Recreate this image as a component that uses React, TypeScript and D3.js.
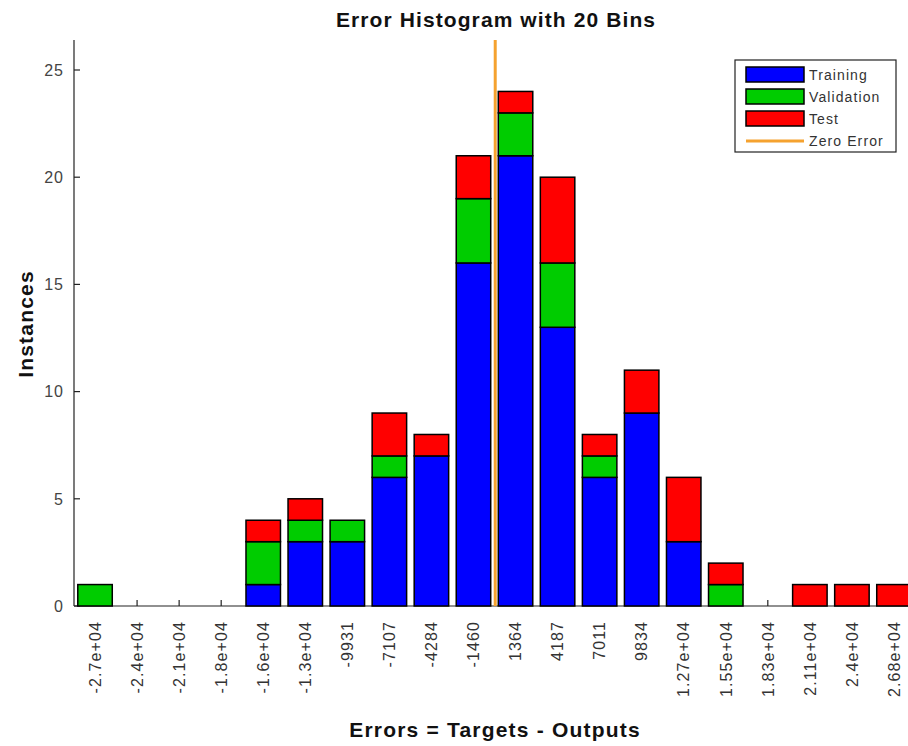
import React from "react";
import * as d3 from "d3";

const binCenters = [-26874, -24050, -21226, -18402, -15579, -12755, -9931, -7107, -4284, -1460, 1364, 4187, 7011, 9834, 12658, 15482, 18305, 21129, 23953, 26777];
const binLabels = ["-2.7e+04", "-2.4e+04", "-2.1e+04", "-1.8e+04", "-1.6e+04", "-1.3e+04", "-9931", "-7107", "-4284", "-1460", "1364", "4187", "7011", "9834", "1.27e+04", "1.55e+04", "1.83e+04", "2.11e+04", "2.4e+04", "2.68e+04"];
const training = [0, 0, 0, 0, 1, 3, 3, 6, 7, 16, 21, 13, 6, 9, 3, 0, 0, 0, 0, 0];
const validation = [1, 0, 0, 0, 2, 1, 1, 1, 0, 3, 2, 3, 1, 0, 0, 1, 0, 0, 0, 0];
const test = [0, 0, 0, 0, 1, 1, 0, 2, 1, 2, 1, 4, 1, 2, 3, 1, 0, 1, 1, 1];
const seriesNames = ["Training", "Validation", "Test"];
const seriesColors = ["#0000ff", "#00cc00", "#ff0000"];
const yTicks = [0, 5, 10, 15, 20, 25];

const W = 908, H = 746;
const FONT = "'Liberation Sans', Arial, Helvetica, sans-serif";

export default function App() {
  const binW = 2823.75;
  const left = 74, bottom = 606, top = 40;
  const pxPerUnit = 42.05 / binW;
  const xMin = binCenters[0] - binW / 2;
  const x = d3.scaleLinear().domain([xMin, xMin + (W - left) / pxPerUnit]).range([left, W]);
  const y = d3.scaleLinear().domain([0, 25]).range([bottom, 70]);
  const barW = binW * 0.82 * pxPerUnit;

  const rows = binCenters.map((c, i) => ({ c, Training: training[i], Validation: validation[i], Test: test[i] }));
  const stack = d3.stack<any>().keys(seriesNames)(rows);

  return (
    <div style={{ position: "absolute", left: 0, top: 0 }}>
      <svg width={W} height={H} style={{ display: "block", background: "#fff" }} fontFamily={FONT}>
        <text x={496} y={27} textAnchor="middle" fontSize={21} fontWeight="bold" fill="#111" letterSpacing={1.1}>Error Histogram with 20 Bins</text>
        {/* axes */}
        <line x1={left} x2={left} y1={top} y2={bottom} stroke="#222" strokeWidth={1.2} />
        <line x1={left} x2={W} y1={bottom} y2={bottom} stroke="#222" strokeWidth={1.2} />
        {yTicks.map(t => (
          <g key={t}>
            <line x1={left} x2={left + 6} y1={y(t)} y2={y(t)} stroke="#222" strokeWidth={1.2} />
            <text x={64} y={y(t)} dy="0.36em" textAnchor="end" fontSize={16} fill="#444" letterSpacing={1}>{t}</text>
          </g>
        ))}
        {binCenters.map((c, i) => (
          <g key={i}>
            <line x1={x(c)} x2={x(c)} y1={bottom} y2={bottom - 6} stroke="#222" strokeWidth={1.2} />
            <text transform={`translate(${x(c)},${bottom + 15}) rotate(-90)`} dy="0.36em" textAnchor="end" fontSize={16} fill="#333" letterSpacing={1.1}>{binLabels[i]}</text>
          </g>
        ))}
        {/* bars */}
        {stack.map((s, si) => (
          <g key={si}>
            {s.map((d, i) => d[1] > d[0] ? (
              <rect key={i} x={x(binCenters[i]) - barW / 2} width={barW} y={y(d[1])} height={y(d[0]) - y(d[1])}
                fill={seriesColors[si]} stroke="#000" strokeWidth={1.5} />
            ) : null)}
          </g>
        ))}
        {/* zero line */}
        <line x1={x(0)} x2={x(0)} y1={top} y2={bottom} stroke="#f5a22f" strokeWidth={3} />
        {/* axis labels */}
        <text x={495} y={737} textAnchor="middle" fontSize={21} fontWeight="bold" fill="#111" letterSpacing={1.2}>Errors = Targets - Outputs</text>
        <text transform={`translate(33,324) rotate(-90)`} textAnchor="middle" fontSize={21} fontWeight="bold" fill="#111" letterSpacing={1.2}>Instances</text>
        {/* legend */}
        <rect x={735} y={60} width={161} height={92} fill="#fff" stroke="#222" strokeWidth={1.2} />
        {seriesNames.map((n, i) => (
          <g key={n}>
            <rect x={746} y={67 + i * 22} width={58} height={15} fill={seriesColors[i]} stroke="#000" strokeWidth={1.5} />
            <text x={809} y={75 + i * 22} dy="0.36em" fontSize={14} fill="#333" letterSpacing={1.1}>{n}</text>
          </g>
        ))}
        <line x1={746} x2={804} y1={141} y2={141} stroke="#f5a22f" strokeWidth={3} />
        <text x={809} y={141} dy="0.36em" fontSize={14} fill="#333" letterSpacing={1.1}>Zero Error</text>
      </svg>
    </div>
  );
}
